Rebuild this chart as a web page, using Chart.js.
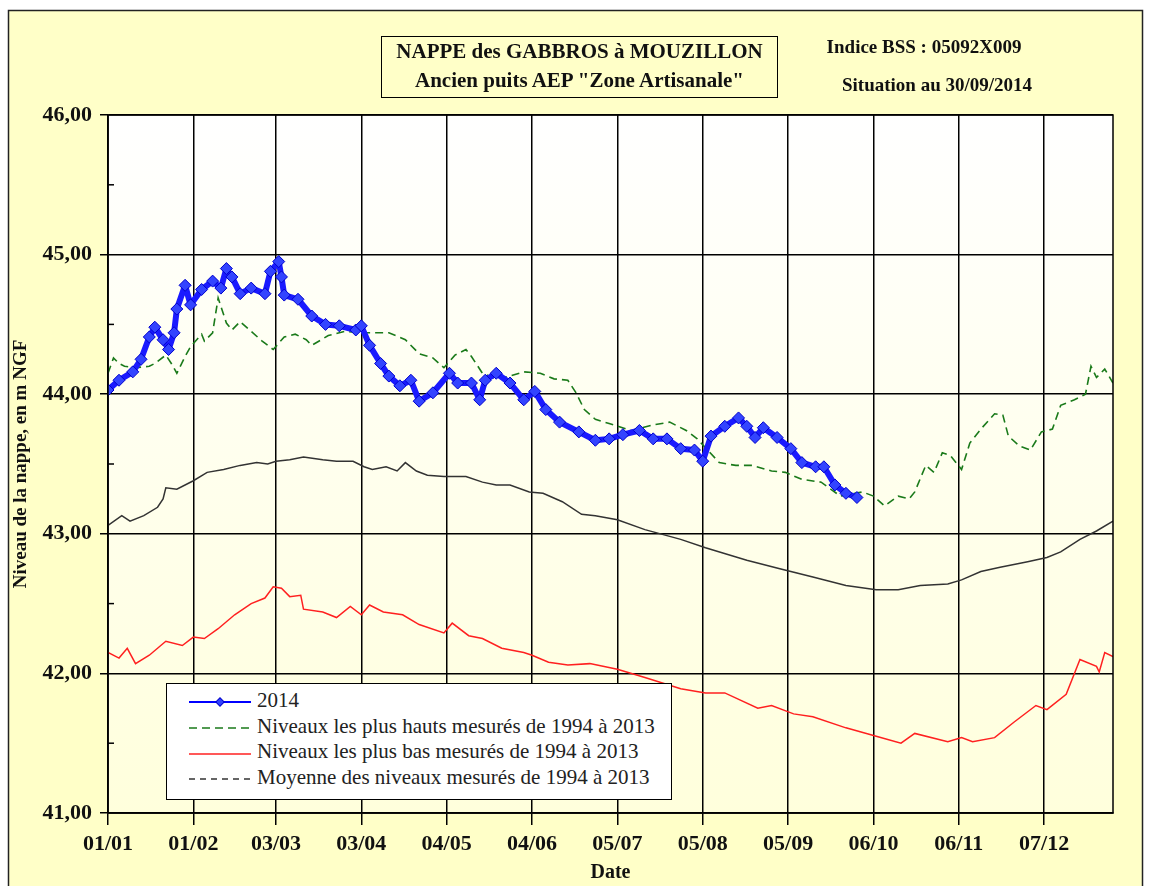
<!DOCTYPE html>
<html lang="fr">
<head>
<meta charset="utf-8">
<title>Nappe des Gabbros à Mouzillon</title>
<script src="https://cdn.jsdelivr.net/npm/chart.js@4.4.1/dist/chart.umd.min.js"></script>
<style>
  body { margin: 0; background: #fff; }
  #wrap { position: relative; width: 1149px; height: 886px; overflow: hidden; font-family: 'Liberation Serif', 'Times New Roman', serif; color: #111; }
  #chart { position: absolute; left: 0; top: 0; }
  .titleBox { position: absolute; left: 381px; top: 36px; width: 395px; height: 60px; border: 1.5px solid #000;
    text-align: center; font-weight: bold; font-size: 21px; line-height: 29px; }
  .info { position: absolute; font-weight: bold; font-size: 19px; text-align: center; width: 260px; }
  .legend { position: absolute; left: 166px; top: 683px; width: 504px; height: 111px; background: #fff;
    border: 1.5px solid #000; padding-top: 4px; box-sizing: content-box; }
  .legend .row { height: 25.7px; line-height: 25.7px; font-size: 21px; white-space: nowrap; color: #222; }
  .legend svg { display: inline-block; vertical-align: middle; margin-left: 22px; margin-right: 6px; }
</style>
</head>
<body>
<div id="wrap">
  <canvas id="chart" width="1149" height="886"></canvas>
  <div class="titleBox">NAPPE des GABBROS à MOUZILLON<br>Ancien puits AEP "Zone Artisanale"</div>
  <div class="info" style="left:794px; top:36px;">Indice BSS : 05092X009</div>
  <div class="info" style="left:807px; top:74px;">Situation au 30/09/2014</div>
  <div class="legend">
    <div class="row"><svg width="62" height="10"><line x1="0" y1="5" x2="62" y2="5" stroke="#0000ff" stroke-width="2"/><rect x="28" y="2" width="6" height="6" fill="#3344ff" stroke="#0000cc" transform="rotate(45 31 5)"/></svg>2014</div>
    <div class="row"><svg width="62" height="10"><line x1="0" y1="5" x2="62" y2="5" stroke="#1a7a1a" stroke-width="1.6" stroke-dasharray="8 5"/></svg>Niveaux les plus hauts mesurés de 1994 à 2013</div>
    <div class="row"><svg width="62" height="10"><line x1="0" y1="5" x2="62" y2="5" stroke="#ff2020" stroke-width="1.6"/></svg>Niveaux les plus bas mesurés de 1994 à 2013</div>
    <div class="row"><svg width="62" height="10"><line x1="0" y1="5" x2="62" y2="5" stroke="#333" stroke-width="1.6" stroke-dasharray="6 5"/></svg>Moyenne des niveaux mesurés de 1994 à 2013</div>
  </div>
</div>

<script>
// x positions are day of year (0 = 1 January)
const tickDays = [0, 31, 61, 92, 123, 154, 185, 216, 247, 278, 309, 340];
const tickLabels = ['01/01', '01/02', '03/03', '03/04', '04/05', '04/06', '05/07', '05/08', '05/09', '06/10', '06/11', '07/12'];
const minorTicksY = [41.5, 42.5, 43.5, 44.5, 45.5];

// 2014 measurements
const days2014 = [0, 4, 9, 12, 15, 17, 20, 22, 24, 25, 28, 30, 34, 38, 41, 43, 45, 48, 52, 57,
  59, 62, 63, 64, 69, 74, 79, 84, 90, 92, 95, 99, 102, 106, 110, 113, 118, 124, 127, 132,
  135, 137, 141, 146, 151, 155, 159, 164, 171, 177, 182, 187, 193, 198, 203, 208, 213, 216, 219, 224,
  229, 232, 235, 238, 243, 248, 252, 257, 260, 264, 268, 272];
const level2014 = [44.03, 44.10, 44.16, 44.25, 44.41, 44.48, 44.39, 44.32, 44.44, 44.61, 44.78, 44.64, 44.75, 44.81, 44.76, 44.90, 44.84, 44.72, 44.76, 44.72,
  44.88, 44.95, 44.84, 44.71, 44.68, 44.56, 44.50, 44.49, 44.46, 44.49, 44.35, 44.22, 44.13, 44.06, 44.10, 43.95, 44.01, 44.15, 44.08, 44.08,
  43.96, 44.10, 44.15, 44.08, 43.96, 44.02, 43.89, 43.80, 43.73, 43.67, 43.68, 43.71, 43.74, 43.68, 43.68, 43.61, 43.60, 43.52, 43.70, 43.77,
  43.83, 43.77, 43.69, 43.76, 43.69, 43.61, 43.51, 43.48, 43.48, 43.35, 43.29, 43.26];

// highest levels 1994-2013
const daysHigh = [0, 2, 4, 6, 10, 15, 17, 21, 23, 25, 28, 30, 34, 35, 38, 40, 41, 43, 45, 48,
  52, 56, 60, 64, 68, 72, 74, 80, 86, 92, 96, 102, 108, 113, 118, 122, 126, 130, 132, 136,
  141, 146, 151, 157, 162, 167, 170, 173, 177, 182, 190, 198, 204, 210, 214, 222, 228, 234, 241, 246,
  252, 259, 266, 274, 278, 282, 287, 291, 293, 297, 300, 303, 306, 310, 313, 317, 322, 325, 327, 331,
  335, 339, 343, 346, 351, 355, 357, 359, 362, 365];
const levelHigh = [44.15, 44.26, 44.22, 44.20, 44.19, 44.20, 44.22, 44.28, 44.22, 44.15, 44.27, 44.34, 44.43, 44.38, 44.44, 44.69, 44.63, 44.51, 44.46, 44.52,
  44.45, 44.38, 44.32, 44.41, 44.43, 44.39, 44.35, 44.42, 44.45, 44.44, 44.44, 44.44, 44.39, 44.29, 44.26, 44.19, 44.28, 44.32, 44.27, 44.15,
  44.11, 44.13, 44.16, 44.15, 44.11, 44.10, 44.01, 43.89, 43.82, 43.79, 43.74, 43.78, 43.80, 43.74, 43.68, 43.51, 43.49, 43.49, 43.45, 43.44,
  43.39, 43.37, 43.27, 43.30, 43.27, 43.20, 43.27, 43.25, 43.30, 43.49, 43.44, 43.58, 43.56, 43.46, 43.65, 43.75, 43.86, 43.85, 43.70, 43.63,
  43.60, 43.73, 43.75, 43.92, 43.96, 44.00, 44.20, 44.12, 44.18, 44.08];

// lowest levels 1994-2013
const daysLow = [0, 4, 7, 10, 15, 21, 27, 31, 35, 40, 46, 52, 57, 60, 63, 66, 70, 71, 78, 83,
  88, 92, 95, 100, 107, 113, 122, 125, 131, 136, 143, 151, 154, 160, 167, 175, 185, 195, 208, 217,
  224, 236, 241, 249, 256, 268, 279, 288, 293, 305, 310, 314, 322, 329, 337, 341, 348, 353, 359, 360,
  362, 365];
const levelLow = [42.15, 42.11, 42.18, 42.07, 42.13, 42.23, 42.20, 42.26, 42.25, 42.32, 42.42, 42.50, 42.54, 42.62, 42.61, 42.55, 42.56, 42.46, 42.44, 42.40,
  42.48, 42.42, 42.49, 42.44, 42.42, 42.35, 42.29, 42.36, 42.27, 42.25, 42.18, 42.15, 42.13, 42.08, 42.06, 42.07, 42.03, 41.97, 41.89, 41.86,
  41.86, 41.75, 41.77, 41.71, 41.69, 41.61, 41.55, 41.50, 41.57, 41.51, 41.54, 41.51, 41.54, 41.65, 41.77, 41.74, 41.85, 42.10, 42.05, 42.01,
  42.15, 42.12];

// mean levels 1994-2013
const daysMean = [0, 5, 8, 13, 18, 20, 21, 25, 31, 36, 42, 48, 54, 58, 61, 66, 71, 78, 83, 89,
  93, 96, 101, 105, 108, 112, 116, 122, 130, 136, 141, 146, 153, 158, 165, 172, 177, 185, 195, 208,
  217, 232, 244, 256, 268, 279, 287, 295, 305, 310, 317, 324, 334, 341, 346, 353, 359, 365];
const levelMean = [43.06, 43.13, 43.09, 43.13, 43.19, 43.25, 43.33, 43.32, 43.38, 43.44, 43.46, 43.49, 43.51, 43.50, 43.52, 43.53, 43.55, 43.53, 43.52, 43.52,
  43.48, 43.46, 43.48, 43.45, 43.51, 43.45, 43.42, 43.41, 43.41, 43.37, 43.35, 43.35, 43.30, 43.29, 43.23, 43.14, 43.13, 43.10, 43.03, 42.96,
  42.90, 42.81, 42.75, 42.69, 42.63, 42.60, 42.60, 42.63, 42.64, 42.67, 42.73, 42.76, 42.80, 42.83, 42.87, 42.96, 43.02, 43.09];

const toPoints = (days, vals) => days.map((d, i) => ({ x: d, y: vals[i] }));

const serif = "'Liberation Serif', 'Times New Roman', serif";

// backgrounds, outer frame, plot border, minor ticks
const framePlugin = {
  id: 'frame',
  beforeDraw(chart) {
    const { ctx, chartArea: a } = chart;
    ctx.save();
    ctx.fillStyle = '#fff';
    ctx.fillRect(0, 0, chart.width, chart.height);
    ctx.fillStyle = '#ffffc8';
    ctx.fillRect(8, 10, 1135, 890);
    ctx.strokeStyle = '#222';
    ctx.lineWidth = 1.5;
    ctx.strokeRect(8.5, 10.5, 1134, 890);
    const g = ctx.createLinearGradient(0, a.top, 0, a.bottom);
    g.addColorStop(0, '#ffffff');
    g.addColorStop(1, '#ffffdc');
    ctx.fillStyle = g;
    ctx.fillRect(a.left, a.top, a.right - a.left, a.bottom - a.top);
    ctx.restore();
  },
  afterDraw(chart) {
    const { ctx, chartArea: a, scales } = chart;
    ctx.save();
    ctx.strokeStyle = '#000';
    ctx.lineWidth = 1.5;
    ctx.strokeRect(a.left, a.top, a.right - a.left, a.bottom - a.top);
    minorTicksY.forEach(v => {
      const y = scales.y.getPixelForValue(v);
      ctx.beginPath();
      ctx.moveTo(a.left, y);
      ctx.lineTo(a.left + 6, y);
      ctx.stroke();
    });
    ctx.restore();
  }
};

const ctx = document.getElementById('chart').getContext('2d');
new Chart(ctx, {
  type: 'line',
  data: {
    datasets: [
      {
        label: '2014',
        data: toPoints(days2014, level2014),
        borderColor: '#1a1aff',
        borderWidth: 6,
        borderJoinStyle: 'round',
        pointStyle: 'rectRot',
        pointRadius: 6,
        pointBackgroundColor: '#3344ff',
        pointBorderColor: '#0000cc',
        pointBorderWidth: 1,
        tension: 0
      },
      {
        label: 'Niveaux les plus hauts mesurés de 1994 à 2013',
        data: toPoints(daysHigh, levelHigh),
        borderColor: '#1a7a1a',
        borderWidth: 1.6,
        borderDash: [8, 5],
        pointRadius: 0,
        tension: 0
      },
      {
        label: 'Niveaux les plus bas mesurés de 1994 à 2013',
        data: toPoints(daysLow, levelLow),
        borderColor: '#ff2020',
        borderWidth: 1.5,
        pointRadius: 0,
        tension: 0
      },
      {
        label: 'Moyenne des niveaux mesurés de 1994 à 2013',
        data: toPoints(daysMean, levelMean),
        borderColor: '#333',
        borderWidth: 1.5,
        pointRadius: 0,
        tension: 0
      }
    ]
  },
  options: {
    responsive: false,
    animation: false,
    layout: { padding: { top: 115, right: 36, bottom: 0, left: 0 } },
    plugins: {
      legend: { display: false },
      tooltip: { enabled: false }
    },
    scales: {
      x: {
        type: 'linear',
        min: 0,
        max: 365,
        afterBuildTicks: s => { s.ticks = tickDays.map(v => ({ value: v })); },
        afterFit: s => { s.height = 73; },
        ticks: {
          autoSkip: false,
          maxRotation: 0,
          padding: 6,
          color: '#111',
          font: { family: serif, size: 22, weight: 'bold' },
          callback: v => tickLabels[tickDays.indexOf(v)]
        },
        grid: { color: '#000', lineWidth: 1.5, tickLength: 12 },
        border: { color: '#000', width: 1.5 },
        title: {
          display: true,
          text: 'Date',
          color: '#111',
          font: { family: serif, size: 20, weight: 'bold' },
          padding: { top: 0, bottom: 1 }
        }
      },
      y: {
        min: 41,
        max: 46,
        afterFit: s => { s.width = 108; },
        ticks: {
          stepSize: 1,
          padding: 8,
          color: '#111',
          font: { family: serif, size: 22, weight: 'bold' },
          callback: v => v.toFixed(2).replace('.', ',')
        },
        grid: { color: '#000', lineWidth: 1.5, tickLength: 8 },
        border: { color: '#000', width: 1.5 },
        title: {
          display: true,
          text: 'Niveau de la nappe, en m NGF',
          color: '#111',
          font: { family: serif, size: 19, weight: 'bold' },
          padding: { top: 10, bottom: 0 }
        }
      }
    }
  },
  plugins: [framePlugin]
});
</script>
</body>
</html>
